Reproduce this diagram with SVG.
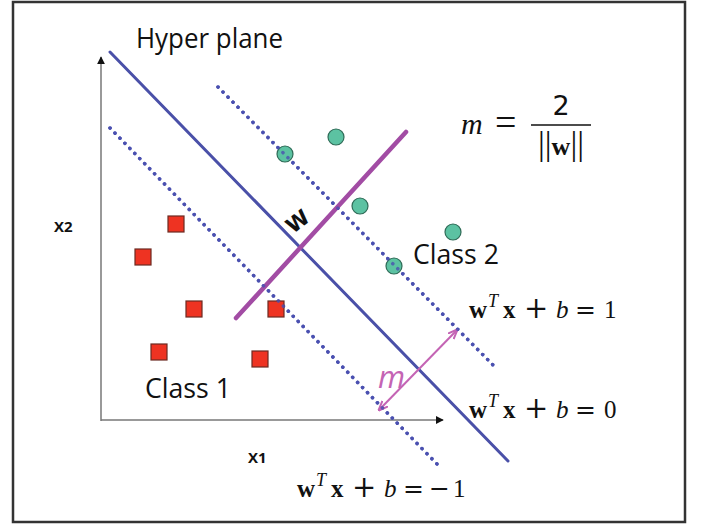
<svg xmlns="http://www.w3.org/2000/svg" width="704" height="524" viewBox="0 0 704 524">
<defs>
<style>
.hp{stroke:#4a50a8;stroke-width:3;fill:none;stroke-linecap:round}
.dot{stroke:#4a50b0;stroke-width:3.5;fill:none;stroke-dasharray:0.1 7;stroke-linecap:round}
.ax{stroke:#777;stroke-width:1.5;fill:none}
.c2{fill:#5cc2a2;stroke:#2f6b57;stroke-width:1.2}
.c1{fill:#ee3322;stroke:#6b2a22;stroke-width:1.2}
.lbl{font-family:"Open Sans","DejaVu Sans",sans-serif;fill:#111;font-size:27px}
.ax-l{font-family:"Open Sans","DejaVu Sans",sans-serif;font-weight:bold;font-size:15px;fill:#111}
.math{font-family:"Liberation Serif","DejaVu Serif",serif;fill:#111}
.op{font-family:"DejaVu Serif",serif;font-size:29px}
.eq{font-family:"DejaVu Serif",serif;font-size:25px}
</style>
<marker id="ah" viewBox="0 0 10 10" refX="9" refY="5" markerWidth="8" markerHeight="8" markerUnits="userSpaceOnUse" orient="auto-start-reverse"><path d="M0,0L10,5L0,10z" fill="#111"/></marker>
<marker id="pk" viewBox="0 0 10 10" refX="9" refY="5" markerWidth="10" markerHeight="10" markerUnits="userSpaceOnUse" orient="auto-start-reverse"><path d="M0,1L10,5L0,9" fill="none" stroke="#c464b4" stroke-width="2"/></marker>
</defs>
<rect x="0" y="0" width="704" height="524" fill="#fff"/>
<rect x="13" y="2" width="672" height="520" fill="none" stroke="#333" stroke-width="2.5"/>
<g id="connectors">
<line class="ax" x1="101" y1="421" x2="101" y2="57" marker-end="url(#ah)"/>
<line class="ax" x1="101" y1="420" x2="443" y2="420" marker-end="url(#ah)"/>
<line class="hp" x1="110" y1="52" x2="508" y2="461"/>
<line class="dot" x1="218" y1="87" x2="494" y2="366"/>
<line class="dot" x1="110" y1="128" x2="437" y2="464"/>
<line x1="236" y1="318" x2="406" y2="132" stroke="#a24ca4" stroke-width="4.5" stroke-linecap="round"/>
<line x1="379" y1="410" x2="457" y2="330" stroke="#c464b4" stroke-width="2" marker-start="url(#pk)" marker-end="url(#pk)"/>
</g>
<g id="class2">
<circle class="c2" cx="285" cy="154" r="8"/>
<circle class="c2" cx="336" cy="137" r="8"/>
<circle class="c2" cx="360" cy="206" r="8"/>
<circle class="c2" cx="453" cy="232" r="8"/>
<circle class="c2" cx="394" cy="266" r="8"/>
</g>
<g id="class1">
<rect class="c1" x="168" y="216" width="16" height="16"/>
<rect class="c1" x="135" y="249" width="16" height="16"/>
<rect class="c1" x="186" y="301" width="16" height="16"/>
<rect class="c1" x="268" y="301" width="16" height="16"/>
<rect class="c1" x="151" y="344" width="16" height="16"/>
<rect class="c1" x="252" y="351" width="16" height="16"/>
</g>
<line class="dot" x1="218" y1="87" x2="494" y2="366" opacity="0.8"/>
<line class="dot" x1="110" y1="128" x2="437" y2="464" opacity="0.8"/>
<g id="labels">
<text class="lbl" x="136" y="48" textLength="147" lengthAdjust="spacingAndGlyphs">Hyper plane</text>
<text class="lbl" x="413" y="264" textLength="86" lengthAdjust="spacingAndGlyphs">Class 2</text>
<text class="lbl" x="145" y="398" textLength="86" lengthAdjust="spacingAndGlyphs">Class 1</text>
<text class="ax-l" x="54" y="232">X2</text>
<text class="ax-l" x="248" y="463">X1</text>
<text x="0" y="0" font-family="'DejaVu Sans',sans-serif" font-weight="bold" font-size="21" fill="#111" transform="translate(302,227) rotate(-38)" text-anchor="middle">W</text>
<text x="378" y="388" font-family="'Open Sans','DejaVu Sans',sans-serif" font-style="italic" font-size="31" fill="#c464b4">m</text>
</g>
<g id="formulas">
<text class="math" x="461" y="134" style="font-size:30px;font-style:italic">m</text>
<text class="math" x="495" y="135" style="font-size:38px">=</text>
<text class="math" x="561" y="115" text-anchor="middle" style="font-family:'DejaVu Sans',sans-serif;font-size:27px">2</text>
<line x1="531" y1="125" x2="591" y2="125" stroke="#111" stroke-width="1.3"/>
<text class="math" x="561" y="155" text-anchor="middle" style="font-size:26px"><tspan style="font-size:34px">||</tspan><tspan style="font-weight:bold">w</tspan><tspan style="font-size:34px">||</tspan></text>
<text class="math" y="318" style="font-size:25px"><tspan x="469" style="font-weight:bold">w</tspan><tspan x="488" dy="-11" style="font-style:italic;font-size:18px">T</tspan><tspan x="503" dy="11" style="font-weight:bold">x</tspan><tspan x="524" class="op">+</tspan><tspan x="556" style="font-style:italic">b</tspan><tspan x="575" class="eq">=</tspan><tspan x="604">1</tspan></text>
<text class="math" y="418" style="font-size:25px"><tspan x="469" style="font-weight:bold">w</tspan><tspan x="488" dy="-11" style="font-style:italic;font-size:18px">T</tspan><tspan x="503" dy="11" style="font-weight:bold">x</tspan><tspan x="524" class="op">+</tspan><tspan x="556" style="font-style:italic">b</tspan><tspan x="575" class="eq">=</tspan><tspan x="604">0</tspan></text>
<text class="math" y="497" style="font-size:25px"><tspan x="297" style="font-weight:bold">w</tspan><tspan x="316" dy="-11" style="font-style:italic;font-size:18px">T</tspan><tspan x="331" dy="11" style="font-weight:bold">x</tspan><tspan x="352" class="op">+</tspan><tspan x="384" style="font-style:italic">b</tspan><tspan x="403" class="eq">=</tspan><tspan x="429" class="eq">−</tspan><tspan x="453">1</tspan></text>
</g>
</svg>
